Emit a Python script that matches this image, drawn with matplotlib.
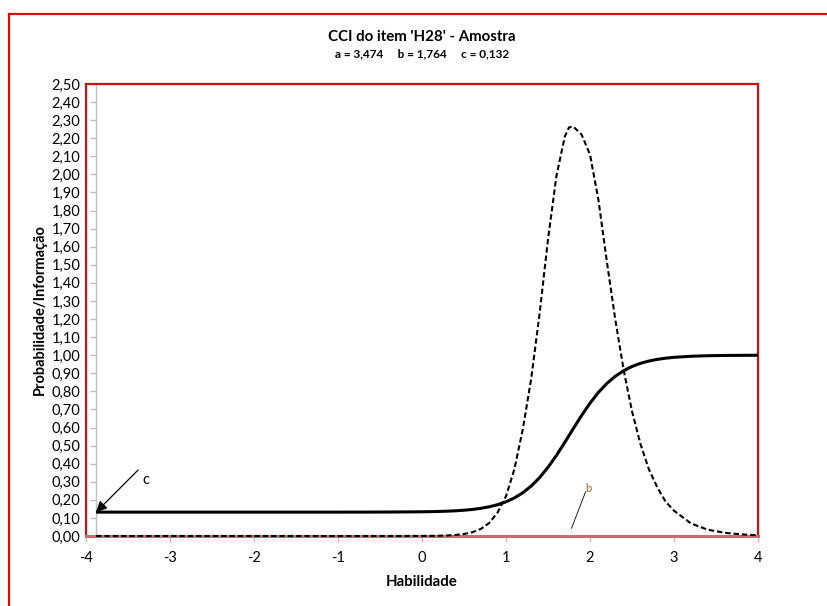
import matplotlib
matplotlib.use("Agg")
import matplotlib.pyplot as plt
from matplotlib.lines import Line2D

plt.rcParams['font.family'] = ['Lato', 'DejaVu Sans']

# item parameters shown under the title
a_par, b_par, c_par = 3.474, 1.764, 0.132

# ability grid
theta = [-3.88, -3.0, -2.0, -1.0, -0.5, 0.0, 0.1, 0.2, 0.3, 0.4, 0.5, 0.6, 0.7, 0.8,
         0.9, 1.0, 1.1, 1.2, 1.3, 1.4, 1.5, 1.6, 1.7, 1.75, 1.8, 1.9, 2.0, 2.1,
         2.2, 2.3, 2.4, 2.5, 2.6, 2.7, 2.8, 2.9, 3.0, 3.2, 3.4, 3.6, 3.8, 4.0]

# item characteristic curve (probability)
prob = [0.132, 0.132, 0.132, 0.132, 0.1323, 0.1339, 0.1347, 0.1358, 0.1373, 0.1395,
        0.1426, 0.1469, 0.1530, 0.1615, 0.1731, 0.1891, 0.2106, 0.2393, 0.2763,
        0.3231, 0.3799, 0.4456, 0.5180, 0.5555, 0.5931, 0.6667, 0.7346, 0.7940,
        0.8435, 0.8833, 0.9141, 0.9375, 0.9550, 0.9676, 0.9769, 0.9835, 0.9883,
        0.9941, 0.9971, 0.9985, 0.9993, 0.9996]

# item information
info = [0.0, 0.0, 0.0, 0.0, 0.0, 0.0004, 0.0007, 0.0015, 0.003, 0.006, 0.011, 0.021,
        0.039, 0.072, 0.13, 0.22, 0.37, 0.59, 0.87, 1.23, 1.64, 1.99, 2.21, 2.26,
        2.265, 2.22, 2.11, 1.86, 1.52, 1.20, 0.92, 0.69, 0.51, 0.37, 0.27, 0.19,
        0.14, 0.07, 0.035, 0.018, 0.009, 0.004]

yticks = [i / 10 for i in range(26)]
xticks = [-4, -3, -2, -1, 0, 1, 2, 3, 4]

W, H = 828, 606
red = '#cc1111'
grey = '#bfbfbf'

fig = plt.figure(figsize=(W / 100, H / 100), dpi=100)

# outer chart border (right/bottom edges fall outside the image)
fig.add_artist(Line2D([9 / W, 1], [1 - 14 / H, 1 - 14 / H], transform=fig.transFigure,
                      color=red, lw=1.6))
fig.add_artist(Line2D([9 / W, 9 / W], [0, 1 - 14 / H], transform=fig.transFigure,
                      color=red, lw=1.6))

ax = fig.add_axes([86 / W, 1 - 536 / H, (758 - 86) / W, (536 - 84) / H])
ax.set_xlim(-4, 4)
ax.set_ylim(0, 2.5)

ax.plot(theta, prob, color='black', lw=2.2, zorder=4, clip_on=False,
        solid_capstyle='butt', solid_joinstyle='round')
ax.plot(theta, info, color='black', lw=1.5, ls=(0, (2.6, 1.4)), zorder=4,
        clip_on=False, dash_joinstyle='round')

for side in ['left', 'right', 'top']:
    ax.spines[side].set_color(red)
    ax.spines[side].set_linewidth(1.6)
ax.spines['bottom'].set_color('#cd6b6b')
ax.spines['bottom'].set_linewidth(2.2)

ax.set_yticks(yticks)
ax.set_yticklabels([f"{v:.2f}".replace('.', ',') for v in yticks])
ax.tick_params(axis='y', length=0, pad=4, labelsize=10.5, colors='black')
ax.set_xticks(xticks)
ax.set_xticklabels([str(v) for v in xticks])
ax.tick_params(axis='x', length=4, width=1, color=grey, pad=7, labelsize=10.5)

# value axis crossing at the first ability point
sec = ax.secondary_yaxis((theta[0] - (-4)) / 8)
sec.set_yticks(yticks)
sec.spines['left'].set_color(grey)
sec.spines['left'].set_linewidth(1)
sec.tick_params(axis='y', length=4, width=1, color=grey, labelleft=False)

# lower asymptote and difficulty markers
ax.annotate('', xy=(theta[0], c_par), xytext=(-3.38, 0.365),
            arrowprops=dict(arrowstyle='-|>', color='black', lw=0.9,
                            mutation_scale=16, shrinkA=0, shrinkB=0), zorder=5)
ax.text(-3.29, 0.31, 'c', fontsize=10.5, ha='center', va='center')
ax.plot([1.78, 1.948], [0.043, 0.245], color='black', lw=0.6)
ax.text(1.98, 0.264, 'b', fontsize=8, color='#b0601a', ha='center', va='center')

fig.text(422 / W, 1 - 37 / H, "CCI do item 'H28' - Amostra", ha='center', va='center',
         fontsize=10.8, fontweight='bold')
fig.text(422 / W, 1 - 54 / H,
         f"a = {a_par:.3f}     b = {b_par:.3f}     c = {c_par:.3f}".replace('.', ','),
         ha='center', va='center', fontsize=8.5, fontweight='bold')
fig.text(40 / W, 1 - 310 / H, 'Probabilidade/Informação', rotation=90, ha='center',
         va='center', fontsize=10.5, fontweight='bold')
fig.text(422 / W, 1 - 582 / H, 'Habilidade', ha='center', va='center', fontsize=10.8,
         fontweight='bold')

fig.savefig('out.png', dpi=100)
